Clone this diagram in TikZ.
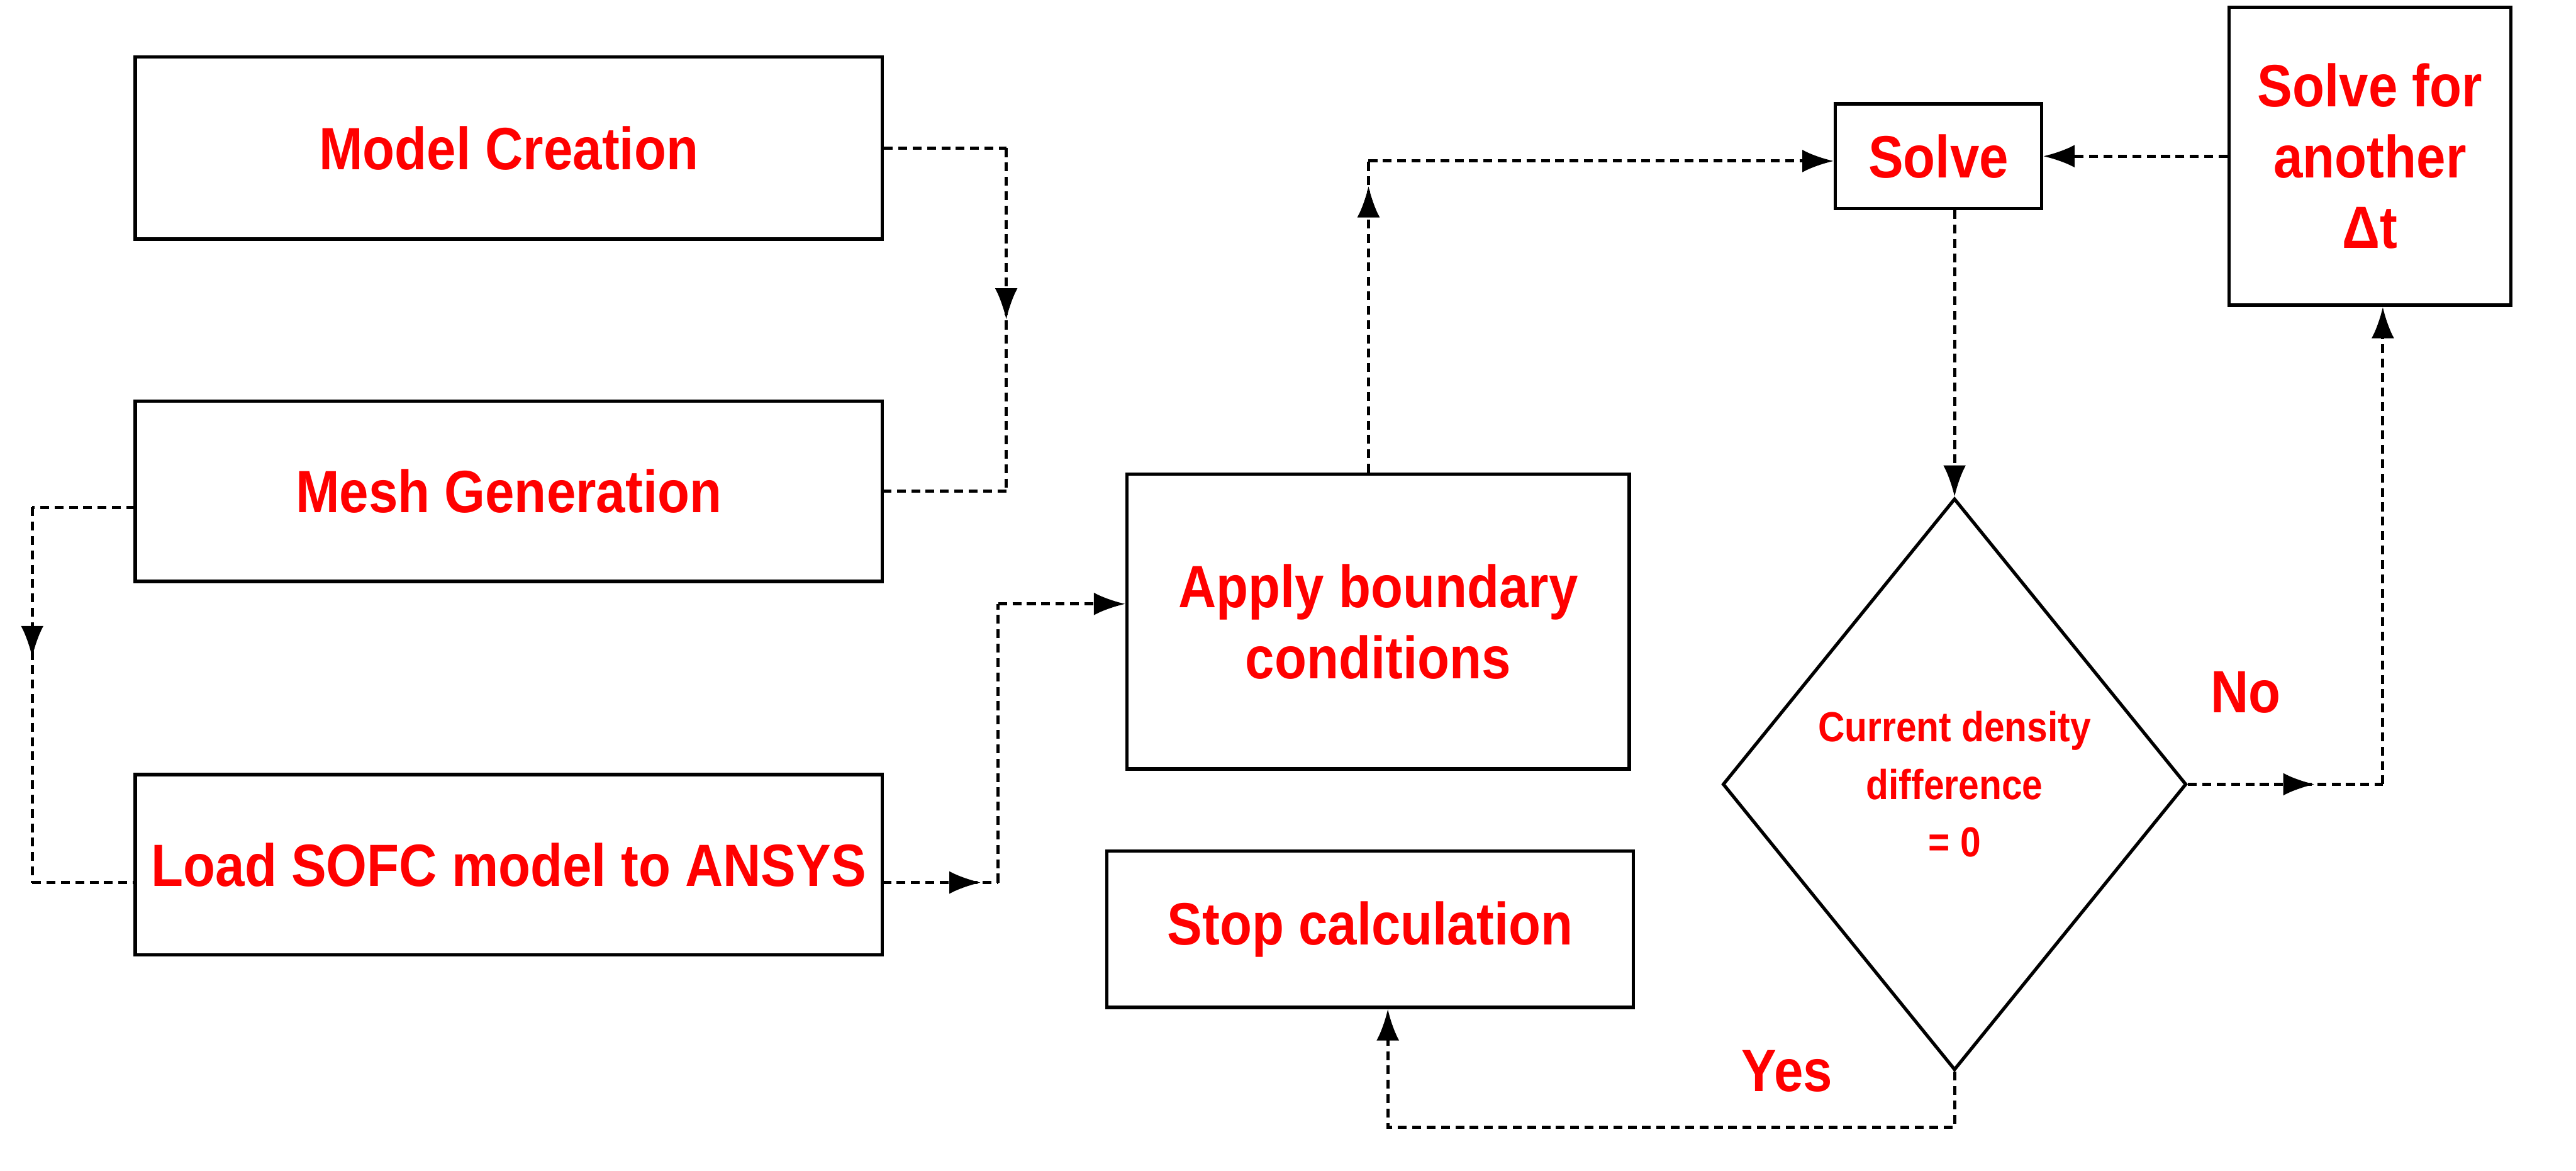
\documentclass[tikz,border=0pt]{standalone}
\usepackage{fontspec}
\setmainfont{Liberation Sans}[FakeStretch=0.88]
\usetikzlibrary{arrows.meta,shapes.geometric,decorations.markings}
\begin{document}
\begin{tikzpicture}[x=0.0256cm,y=-0.0256cm,
 box/.style={draw,line width=1.5pt,font=\bfseries\fontsize{27}{32}\selectfont,text=red,align=center,inner sep=0pt},
 con/.style={line width=1.4pt,dash pattern=on 4pt off 2.5pt},
 tip/.style={-{Latex[length=0.5cm,width=0.36cm]}},
 mid/.style={postaction=decorate,decoration={markings,mark=at position #1 with {\arrow{Latex[length=0.5cm,width=0.36cm]}}}},
 lab/.style={font=\bfseries\fontsize{27}{32}\selectfont,text=red}]
\useasboundingbox (0,0) rectangle (1600,727);
\node[box,minimum width=464*0.0256cm,minimum height=113*0.0256cm] (mc) at (316,92) {Model Creation};
\node[box,minimum width=464*0.0256cm,minimum height=112*0.0256cm] (mg) at (316,305) {Mesh Generation};
\node[box,minimum width=464*0.0256cm,minimum height=112*0.0256cm] (ld) at (316,537) {Load SOFC model to ANSYS};
\node[box,minimum width=312*0.0256cm,minimum height=183*0.0256cm] (ab) at (856,386) {Apply boundary\\conditions};
\node[box,minimum width=327*0.0256cm,minimum height=97*0.0256cm] (st) at (851,577) {Stop calculation};
\node[box,minimum width=128*0.0256cm,minimum height=65*0.0256cm] (sv) at (1204,97) {Solve};
\node[box,minimum width=175*0.0256cm,minimum height=185*0.0256cm] (sa) at (1472,97) {Solve for\\another\\Δt};
\node[draw,line width=1.5pt,diamond,minimum width=288*0.0256cm,minimum height=355*0.0256cm,inner sep=0pt] (dm) at (1214,487) {};
\node[font=\bfseries\fontsize{19}{26}\selectfont,text=red,align=center] (dt) at (1214,487) {Current density\\difference\\= 0};
\coordinate (c1) at (625,92); \coordinate (c2) at (625,305);
\draw[con] (mc.east) -- (c1);
\draw[con,mid=0.5] (c1) -- (c2);
\draw[con] (c2) -- (mg.east);
\coordinate (c3) at (20,315); \coordinate (c4) at (20,548);
\draw[con] (84,315) -- (c3);
\draw[con,mid=0.4] (c3) -- (c4);
\draw[con] (c4) -- (84,548);
\coordinate (c5) at (620,548); \coordinate (c6) at (620,375);
\draw[con,mid=0.85] (548,548) -- (c5);
\draw[con] (c5) -- (c6);
\draw[con,tip] (c6) -- (ab.west |- c6);
\coordinate (c7) at (850,100);
\draw[con,mid=0.92] (ab.north -| c7) -- (c7);
\draw[con,tip] (c7) -- (sv.west |- c7);
\draw[con,tip] (sv.south -| dm.north) -- (dm.north);
\draw[con,tip] (sa.west) -- (sv.east);
\coordinate (c8) at (1480,487);
\draw[con,mid=0.65] (dm.east) -- (c8);
\draw[con,tip] (c8) -- (sa.south -| c8);
\coordinate (c9) at (1214,700); \coordinate (c10) at (862,700);
\draw[con,tip] (dm.south) -- (c9) -- (c10) -- (st.south -| c10);
\node[lab] (no) at (1395,430) {No};
\node[lab] (yes) at (1110,665) {Yes};
\end{tikzpicture}
\end{document}
